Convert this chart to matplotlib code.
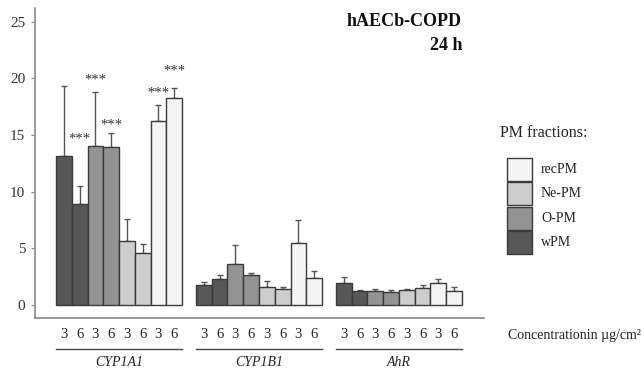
import numpy as np
import matplotlib.pyplot as plt
from matplotlib.patches import Rectangle
from matplotlib.lines import Line2D

plt.rcParams['font.family'] = ['Liberation Serif', 'DejaVu Serif']

genes = ['CYP1A1', 'CYP1B1', 'AhR']
fractions = ['wPM', 'O-PM', 'Ne-PM', 'recPM']
doses = ['3', '6']
colors = {'wPM': '#575757', 'O-PM': '#939393', 'Ne-PM': '#cdcdcd', 'recPM': '#f4f4f4'}

# mean values, order per gene: wPM 3,6 / O-PM 3,6 / Ne-PM 3,6 / recPM 3,6
means = {
    'CYP1A1': [13.1, 8.9, 14.0, 13.9, 5.6, 4.6, 16.2, 18.3],
    'CYP1B1': [1.8, 2.3, 3.6, 2.6, 1.6, 1.4, 5.5, 2.4],
    'AhR':    [1.9, 1.2, 1.2, 1.1, 1.3, 1.5, 1.9, 1.2],
}
errs = {
    'CYP1A1': [6.2, 1.6, 4.8, 1.3, 2.0, 0.8, 1.4, 0.8],
    'CYP1B1': [0.2, 0.3, 1.7, 0.2, 0.5, 0.2, 2.0, 0.6],
    'AhR':    [0.6, 0.1, 0.2, 0.2, 0.1, 0.3, 0.4, 0.4],
}
# significance marks for CYP1A1 (bar index, height of label)
stars_idx = [1, 2, 3, 6, 7]
stars_y = [14.6, 19.8, 15.9, 18.7, 20.6]

fig = plt.figure(figsize=(6.44, 3.72), dpi=100)
ax = fig.add_axes([35/644, 1-318/372, 449/644, 310/372])

bw = 15.75
group_start = [(56-35)/bw, (196-35)/bw, (336-35)/bw]

for g, gene in enumerate(genes):
    for i in range(8):
        fr = fractions[i // 2]
        x = group_start[g] + i + 0.5
        ax.bar(x, means[gene][i], width=1.0, color=colors[fr],
               edgecolor='#3a3a3a', linewidth=1.0, zorder=2)
        ax.errorbar(x, means[gene][i], yerr=[[0], [errs[gene][i]]],
                    fmt='none', ecolor='#555555', elinewidth=1.0,
                    capsize=2, capthick=1.0, zorder=1)
    # dose labels under the axis
    for i in range(8):
        xf = (35 + (group_start[g] + i + 0.5) * bw) / 644
        fig.text(xf, 1-335/372, doses[i % 2], ha='center', va='center',
                 fontsize=10.5, color='#222222')
    x0 = (35 + group_start[g] * bw) / 644
    x1 = (35 + (group_start[g] + 8) * bw) / 644
    fig.add_artist(Line2D([x0, x1], [1-349/372, 1-349/372],
                          color='#444444', linewidth=1.0))
    fig.text((x0 + x1) / 2, 1-363/372, gene, ha='center', va='center',
             fontsize=10, style='italic', color='#222222')

for idx, yy in zip(stars_idx, stars_y):
    ax.text(group_start[0] + idx + 0.5, yy, '***', ha='center', va='center',
            fontsize=10.5, color='#333333')

ax.set_xlim(0, 449/bw)
ax.set_ylim(-1.15, 26.2)
ax.set_yticks([0, 5, 10, 15, 20, 25])
ax.set_xticks([])
for s in ['top', 'right']:
    ax.spines[s].set_visible(False)
for s in ['left', 'bottom']:
    ax.spines[s].set_color('#888888')
    ax.spines[s].set_linewidth(1.2)
ax.tick_params(axis='y', length=3, color='#888888', labelsize=11,
               labelcolor='#333333', pad=4)

fig.text(462/644, 1-22/372, 'hAECb-COPD', ha='right', va='center',
         fontsize=13, fontweight='bold', color='#111111')
fig.text(462/644, 1-46/372, '24 h', ha='right', va='center',
         fontsize=13, fontweight='bold', color='#111111')

# legend drawn by hand
fig.text(500/644, 1-133/372, 'PM fractions:', ha='left', va='center',
         fontsize=11.5, color='#222222')
leg_order = ['recPM', 'Ne-PM', 'O-PM', 'wPM']
for k, name in enumerate(leg_order):
    y_top = 158 + k * 24.25
    fig.add_artist(Rectangle((507/644, 1-(y_top+23)/372), 25/644, 23/372,
                             facecolor=colors[name], edgecolor='#3a3a3a',
                             linewidth=1.0, transform=fig.transFigure))
    fig.text(541/644, 1-(y_top+11.5)/372, name, ha='left', va='center',
             fontsize=10, color='#222222')

fig.text(508/644, 1-335/372, 'Concentrationin µg/cm²', ha='left',
         va='center', fontsize=10, color='#222222')

fig.savefig('out.png', dpi=100)
